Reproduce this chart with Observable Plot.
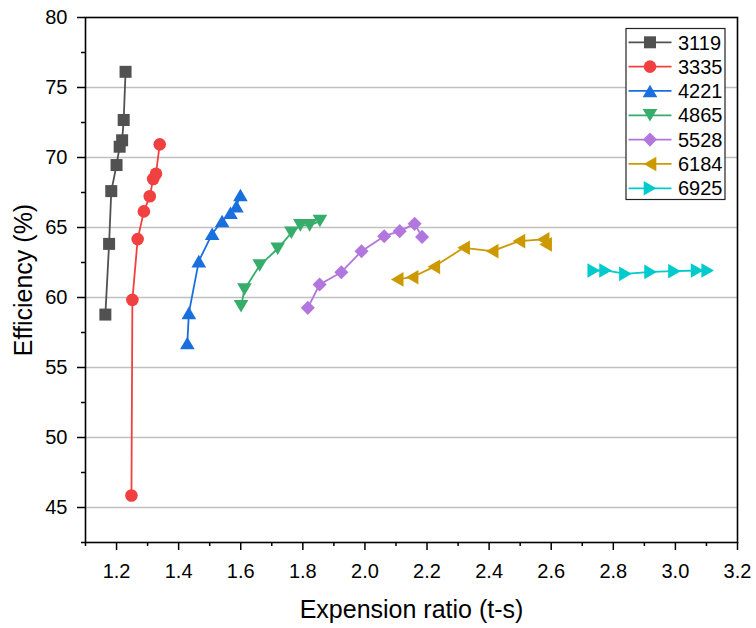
<!DOCTYPE html>
<html><head><meta charset="utf-8">
<script src="https://cdn.jsdelivr.net/npm/d3@7"></script>
<script src="https://cdn.jsdelivr.net/npm/@observablehq/plot@0.6"></script>
<style>
body{margin:0;background:#fff}
#wrap{position:relative;width:756px;height:628px;background:#fff}
#wrap svg{display:block}
</style>
</head><body><div id="wrap"></div>
<script>
// ---- data ----
const seriesNames = ["3119","3335","4221","4865","5528","6184","6925"];
const seriesColors = ["#515151","#F14040","#1A6FDF","#37AD6B","#B177DE","#CC9900","#00CBCC"];
const x3119 = [1.164,1.176,1.183,1.200,1.210,1.218,1.223,1.229];
const y3119 = [58.78,63.83,67.60,69.46,70.77,71.23,72.68,76.12];
const x3335 = [1.248,1.251,1.268,1.288,1.307,1.318,1.327,1.339];
const y3335 = [45.86,59.83,64.17,66.15,67.23,68.46,68.84,70.94];
const x4221 = [1.428,1.433,1.465,1.508,1.540,1.567,1.586,1.599];
const y4221 = [56.75,58.90,62.60,64.55,65.46,66.05,66.53,67.32];
const x4865 = [1.601,1.612,1.661,1.719,1.763,1.792,1.822,1.855];
const y4865 = [59.38,60.57,62.29,63.48,64.62,65.15,65.15,65.46];
const x5528 = [1.816,1.854,1.924,1.989,2.062,2.112,2.160,2.184];
const y5528 = [59.26,60.93,61.81,63.31,64.38,64.74,65.26,64.33];
const x6184 = [2.104,2.152,2.222,2.318,2.410,2.496,2.574,2.582];
const y6184 = [61.29,61.45,62.19,63.55,63.31,64.03,64.15,63.79];
const x6925 = [2.737,2.775,2.839,2.920,2.997,3.070,3.104];
const y6925 = [61.93,61.93,61.69,61.83,61.88,61.93,61.93];
const xMajor = [1.2,1.4,1.6,1.8,2.0,2.2,2.4,2.6,2.8,3.0,3.2];
const xMinor = [1.1,1.3,1.5,1.7,1.9,2.1,2.3,2.5,2.7,2.9,3.1];
const yMajor = [45,50,55,60,65,70,75,80];
const yMinor = [42.5,47.5,52.5,57.5,62.5,67.5,72.5,77.5];
const xLabel = "Expension ratio (t-s)";
const yLabel = "Efficiency (%)";

// ---- symbols ----
function sym(fn){return {draw(c,size){const r=Math.sqrt(size/Math.PI);fn(c,r);}};}
const square = sym((c,r)=>{c.moveTo(-r,-r);c.lineTo(r,-r);c.lineTo(r,r);c.lineTo(-r,r);c.closePath();});
const circle = sym((c,r)=>{const R=r*1.05;c.moveTo(R,0);c.arc(0,0,R,0,2*Math.PI);c.closePath();});
const triUp = sym((c,r)=>{const w=1.22*r,h=1.05*r;c.moveTo(0,-h);c.lineTo(w,h);c.lineTo(-w,h);c.closePath();});
const triDown = sym((c,r)=>{const w=1.22*r,h=1.05*r;c.moveTo(0,h);c.lineTo(w,-h);c.lineTo(-w,-h);c.closePath();});
const diamond = sym((c,r)=>{const d=1.17*r;c.moveTo(0,-d);c.lineTo(d,0);c.lineTo(0,d);c.lineTo(-d,0);c.closePath();});
const triLeft = sym((c,r)=>{const w=1.22*r,h=1.05*r;c.moveTo(-h,0);c.lineTo(h,-w);c.lineTo(h,w);c.closePath();});
const triRight = sym((c,r)=>{const w=1.22*r,h=1.05*r;c.moveTo(h,0);c.lineTo(-h,-w);c.lineTo(-h,w);c.closePath();});
const seriesSymbols = [square,circle,triUp,triDown,diamond,triLeft,triRight];

const xs = [x3119,x3335,x4221,x4865,x5528,x6184,x6925];
const ys = [y3119,y3335,y4221,y4865,y5528,y6184,y6925];
const tables = xs.map((xa,i)=>xa.map((x,j)=>({s:seriesNames[i],x,y:ys[i][j]})));

const R = 6;
const seriesMarks = tables.flatMap((t,i)=>[
  Plot.line(t,{x:"x",y:"y",stroke:seriesColors[i],strokeWidth:1.8}),
  Plot.dot(t,{x:"x",y:"y",symbol:seriesSymbols[i],r:R,fill:seriesColors[i],stroke:"none"})
]);

const chart = Plot.plot({
  width:756,height:628,
  marginLeft:85,marginRight:19,marginTop:17,marginBottom:86,
  style:{fontFamily:"'Liberation Sans', Arial, sans-serif",fontSize:"20px",background:"white",color:"black"},
  x:{domain:[1.1,3.2]},
  y:{domain:[42.5,80]},
  marks:[
    Plot.gridY(yMajor.filter(v=>v<80),{stroke:"#c0c0c0",strokeOpacity:1,strokeWidth:1.5}),
    Plot.axisX(xMinor,{tickSize:4,fill:"none",strokeWidth:1.5,label:null}),
    Plot.axisX(xMajor,{tickSize:8,tickPadding:13,tickFormat:d3.format(".1f"),strokeWidth:1.5,label:null,fontSize:20}),
    Plot.axisX([],{tickSize:0,label:xLabel,labelAnchor:"center",labelOffset:75,labelArrow:"none",fontSize:25}),
    Plot.axisY(yMinor,{tickSize:4,fill:"none",strokeWidth:1.5,label:null}),
    Plot.axisY(yMajor,{tickSize:8,tickPadding:10,strokeWidth:1.5,label:null,fontSize:20}),
    Plot.axisY([],{tickSize:0,label:yLabel,labelAnchor:"center",labelOffset:71,labelArrow:"none",fontSize:25}),
    Plot.frame({stroke:"black",strokeWidth:1.6}),
    ...seriesMarks
  ]
});
const wrap = document.getElementById("wrap");
wrap.appendChild(chart);

// ---- legend overlay ----
const lg = d3.create("svg").attr("width",756).attr("height",628)
  .style("position","absolute").style("left","0").style("top","0").style("pointer-events","none");
const bx = 626, by = 28.5, bw = 99, bh = 171;
lg.append("rect").attr("x",bx).attr("y",by).attr("width",bw).attr("height",bh)
  .attr("fill","white").attr("stroke","#222").attr("stroke-width",1.2);
seriesNames.forEach((name,i)=>{
  const cy = 42.3 + i*24.33;
  const g = lg.append("g");
  g.append("line").attr("x1",628.5).attr("x2",671.5).attr("y1",cy).attr("y2",cy)
    .attr("stroke",seriesColors[i]).attr("stroke-width",1.8);
  g.append("path").attr("transform",`translate(650,${cy})`)
    .attr("d",d3.symbol(seriesSymbols[i],R*R*Math.PI)()).attr("fill",seriesColors[i]);
  g.append("text").attr("x",678).attr("y",cy).attr("dy","0.36em")
    .attr("font-family","'Liberation Sans', Arial, sans-serif").attr("font-size",20).attr("fill","black")
    .text(name);
});
wrap.appendChild(lg.node());
</script>
</body></html>
